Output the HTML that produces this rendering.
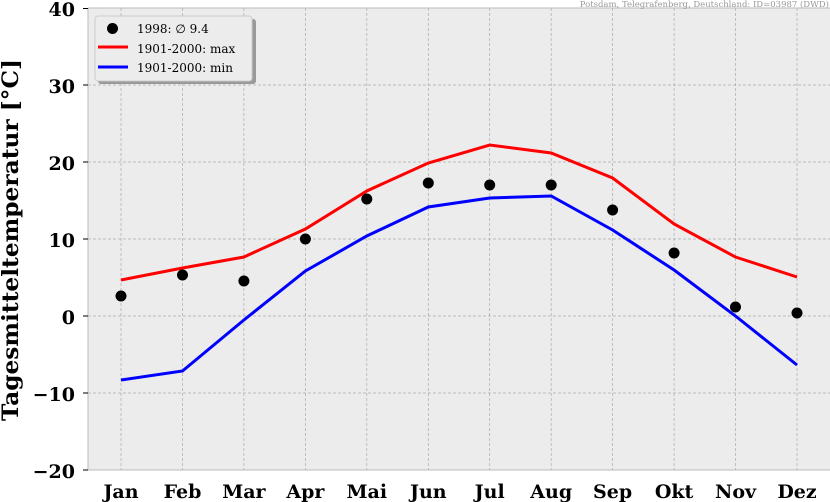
<!DOCTYPE html>
<html><head><meta charset="utf-8"><style>body{margin:0;background:#fff}svg{display:block}</style></head><body>
<svg width="830" height="502" xmlns="http://www.w3.org/2000/svg" font-family="DejaVu Serif, Liberation Serif, serif">
<rect x="88" y="8" width="742" height="462" fill="#ececec"/>
<g stroke="#aaa" stroke-width="0.7" stroke-dasharray="3,2">
<line x1="88" x2="830" y1="85" y2="85"/><line x1="88" x2="830" y1="162" y2="162"/><line x1="88" x2="830" y1="239" y2="239"/><line x1="88" x2="830" y1="316" y2="316"/><line x1="88" x2="830" y1="393" y2="393"/>
<line x1="121" x2="121" y1="8" y2="470"/><line x1="182.5" x2="182.5" y1="8" y2="470"/><line x1="243.9" x2="243.9" y1="8" y2="470"/><line x1="305.4" x2="305.4" y1="8" y2="470"/><line x1="366.8" x2="366.8" y1="8" y2="470"/><line x1="428.3" x2="428.3" y1="8" y2="470"/><line x1="489.7" x2="489.7" y1="8" y2="470"/><line x1="551.2" x2="551.2" y1="8" y2="470"/><line x1="612.6" x2="612.6" y1="8" y2="470"/><line x1="674.1" x2="674.1" y1="8" y2="470"/><line x1="735.5" x2="735.5" y1="8" y2="470"/><line x1="797" x2="797" y1="8" y2="470"/>
</g>
<g stroke="#bbb" fill="none"><line x1="88" y1="8" x2="830" y2="8"/><line x1="88" y1="8" x2="88" y2="470"/><line x1="88" y1="470" x2="830" y2="470"/></g>
<g stroke="#000"><line x1="83" x2="88" y1="8.5" y2="8.5"/><line x1="83" x2="88" y1="85" y2="85"/><line x1="83" x2="88" y1="162" y2="162"/><line x1="83" x2="88" y1="239" y2="239"/><line x1="83" x2="88" y1="316" y2="316"/><line x1="83" x2="88" y1="393" y2="393"/><line x1="83" x2="88" y1="470" y2="470"/></g>
<g font-size="19" font-weight="bold" text-anchor="end">
<text x="75" y="16">40</text><text x="75" y="93">30</text><text x="75" y="170">20</text><text x="75" y="247">10</text><text x="75" y="324">0</text><text x="75" y="401">−10</text><text x="75" y="478">−20</text>
</g>
<g font-size="19" font-weight="bold" text-anchor="middle">
<text x="121" y="498">Jan</text><text x="182.5" y="498">Feb</text><text x="243.9" y="498">Mar</text><text x="305.4" y="498">Apr</text><text x="366.8" y="498">Mai</text><text x="428.3" y="498">Jun</text><text x="489.7" y="498">Jul</text><text x="551.2" y="498">Aug</text><text x="612.6" y="498">Sep</text><text x="674.1" y="498">Okt</text><text x="735.5" y="498">Nov</text><text x="797" y="498">Dez</text>
</g>
<text transform="translate(18,240) rotate(-90)" font-size="22" font-weight="bold" text-anchor="middle" textLength="362" lengthAdjust="spacingAndGlyphs">Tagesmitteltemperatur [°C]</text>
<text x="829" y="7" font-size="8.5" fill="#999" text-anchor="end">Potsdam, Telegrafenberg, Deutschland: ID=03987 (DWD)</text>
<polyline fill="none" stroke="#f00" stroke-width="3" points="121,280 182.5,268 243.9,257 305.4,229 366.8,191 428.3,163 489.7,145 551.2,153 612.6,178 674.1,224 735.5,257 797,277"/>
<polyline fill="none" stroke="#00f" stroke-width="3" points="121,380 182.5,371 243.9,320 305.4,271 366.8,236 428.3,207 489.7,198 551.2,196 612.6,230 674.1,270 735.5,316 797,365"/>
<g fill="#000"><circle cx="121" cy="296" r="5.5"/><circle cx="182.5" cy="275" r="5.5"/><circle cx="243.9" cy="281" r="5.5"/><circle cx="305.4" cy="239" r="5.5"/><circle cx="366.8" cy="199" r="5.5"/><circle cx="428.3" cy="183" r="5.5"/><circle cx="489.7" cy="185" r="5.5"/><circle cx="551.2" cy="185" r="5.5"/><circle cx="612.6" cy="210" r="5.5"/><circle cx="674.1" cy="253" r="5.5"/><circle cx="735.5" cy="307" r="5.5"/><circle cx="797" cy="313" r="5.5"/></g>
<rect x="98" y="19" width="158" height="65" rx="3" fill="#999"/>
<rect x="95" y="16" width="157" height="65" rx="3" fill="#ececec" stroke="#ccc"/>
<circle cx="112.5" cy="28.5" r="5.5" fill="#000"/>
<line x1="98" x2="128" y1="47" y2="47" stroke="#f00" stroke-width="3"/>
<line x1="98" x2="128" y1="67" y2="67" stroke="#00f" stroke-width="3"/>
<g font-size="12"><text x="137" y="33">1998: ∅ 9.4</text><text x="137" y="53">1901-2000: max</text><text x="137" y="72">1901-2000: min</text></g>
</svg>
</body></html>
